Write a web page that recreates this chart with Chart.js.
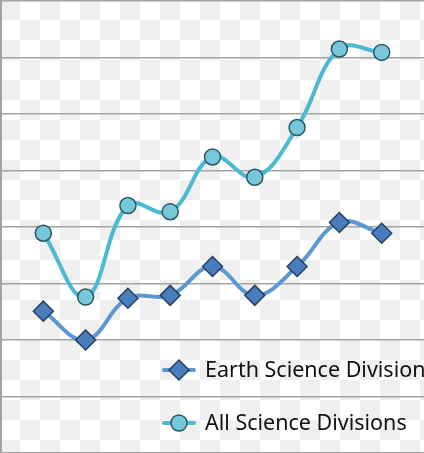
<!DOCTYPE html>
<html>
<head>
<meta charset="utf-8">
<script src="https://cdn.jsdelivr.net/npm/chart.js@4/dist/chart.umd.min.js"></script>
<style>
  html, body { margin: 0; padding: 0; }
  body {
    width: 424px; height: 453px; overflow: hidden;
    background-color: #ffffff;
    background-image: conic-gradient(#ffffff 0 25%, #efefef 0 50%, #ffffff 0 75%, #efefef 0);
    background-size: 40px 40px;
  }
  canvas { display: block; }
</style>
</head>
<body>
<canvas id="chart" width="424" height="453"></canvas>
<script>
// x positions (categories), plotted on a 0..10 scale
const categories = [1, 2, 3, 4, 5, 6, 7, 8, 9];
const earthScience = [2.51, 2.00, 2.74, 2.79, 3.30, 2.79, 3.30, 4.08, 3.89];
const allScience = [3.89, 2.76, 4.38, 4.27, 5.24, 4.88, 5.76, 7.15, 7.09];
const yTicks = [0, 1, 2, 3, 4, 5, 6, 7, 8];

const seriesNames = ["Earth Science Division", "All Science Divisions"];

function toPoints(vals) {
    return categories.map((c, i) => ({ x: c, y: vals[i] }));
}

// legend drawn inside the plot, bottom right
const insideLegend = {
    id: "insideLegend",
    afterDraw(chart) {
        const ctx = chart.ctx;
        const rows = [370, 423];
        ctx.save();
        chart.data.datasets.forEach((ds, i) => {
            const y = rows[i];
            ctx.strokeStyle = ds.borderColor;
            ctx.lineWidth = 4;
            ctx.lineCap = "round";
            ctx.beginPath();
            ctx.moveTo(164, y);
            ctx.lineTo(194, y);
            ctx.stroke();
            ctx.lineWidth = ds.pointBorderWidth;
            ctx.fillStyle = ds.pointBackgroundColor;
            ctx.strokeStyle = ds.pointBorderColor;
            Chart.helpers.drawPoint(ctx, {
                pointStyle: ds.pointStyle,
                radius: ds.pointRadius,
                rotation: 0,
                borderWidth: ds.pointBorderWidth
            }, 179, y);
            ctx.fillStyle = "#111111";
            ctx.font = "21.5px 'Noto Sans'";
            ctx.textBaseline = "middle";
            ctx.fillText(ds.label, 205, y + 1);
        });
        ctx.restore();
    }
};

new Chart(document.getElementById("chart"), {
    type: "line",
    data: {
        datasets: [{
            label: seriesNames[0],
            data: toPoints(earthScience),
            borderColor: "#5b97d1",
            borderWidth: 4,
            tension: 0.4,
            pointStyle: "rectRot",
            pointRadius: 10,
            pointBackgroundColor: "#4a7dbd",
            pointBorderColor: "#27405f",
            pointBorderWidth: 1.5
        }, {
            label: seriesNames[1],
            data: toPoints(allScience),
            borderColor: "#4bb9d2",
            borderWidth: 4,
            tension: 0.4,
            pointStyle: "circle",
            pointRadius: 8,
            pointBackgroundColor: "#77c7da",
            pointBorderColor: "#2a5864",
            pointBorderWidth: 1.5
        }]
    },
    options: {
        responsive: false,
        devicePixelRatio: 1,
        animation: false,
        layout: { autoPadding: false, padding: { left: 1, top: 1, right: 0, bottom: 0 } },
        plugins: { legend: { display: false }, tooltip: { enabled: false } },
        scales: {
            x: {
                type: "linear", min: 0, max: 10,
                display: false
            },
            y: {
                min: 0, max: 8,
                afterBuildTicks: (axis) => { axis.ticks = yTicks.map(v => ({ value: v })); },
                ticks: { display: false },
                grid: { color: "#a3a3a3", lineWidth: 1.5, drawTicks: false },
                border: { display: true, color: "#a3a3a3", width: 2 }
            }
        }
    },
    plugins: [insideLegend]
});
</script>
</body>
</html>
